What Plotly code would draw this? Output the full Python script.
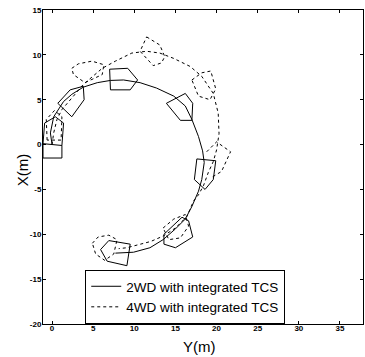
import plotly.graph_objects as go

# ---- 2WD with integrated TCS (solid) : trajectory, Y(m) horizontal, X(m) vertical
path2_y = [0, -0.2, 0.2, 1.4, 2.4, 3.8, 5.5, 7.1, 8.7, 10.7, 12.7, 14.8, 16.2, 17.0, 17.8, 18.3,
           18.5, 18.2, 17.8, 17.0, 16.2, 15.0, 13.5, 11.9, 9.9, 7.7]
path2_x = [0, 1.3, 3.1, 4.8, 5.6, 6.4, 6.9, 7.15, 7.2, 6.9, 6.3, 5.4, 4.3, 2.8, 0.9, -0.7,
           -2.0, -3.9, -5.2, -6.9, -8.3, -9.4, -10.6, -11.5, -12.0, -12.1]

# vehicle outlines (solid)
car2_y = [
    [-1.1, 1.2, 1.2, -1.1, -1.1, -0.9, 0.4, 1.4, 1.2],
    [0.7, 2.2, 3.8, 3.9, 2.4, 0.7],
    [7.0, 9.2, 10.4, 9.5, 7.1, 7.0],
    [13.9, 16.2, 17.1, 17.0, 15.6, 13.9],
    [17.6, 19.9, 19.6, 18.6, 17.3, 17.6],
    [13.6, 15.8, 16.6, 17.1, 15.0, 13.6, 13.6],
    [5.9, 6.9, 9.5, 9.1, 6.7, 5.9],
]
car2_x = [
    [0.1, -0.1, -1.5, -1.5, 0.1, 2.4, 3.1, 2.4, -0.1],
    [4.6, 6.1, 6.5, 5.0, 3.1, 4.6],
    [8.4, 8.5, 7.2, 6.1, 6.1, 8.4],
    [4.6, 5.7, 4.6, 2.7, 2.7, 4.6],
    [-1.6, -1.8, -3.9, -5.0, -3.9, -1.6],
    [-10.0, -8.1, -8.5, -10.3, -11.5, -11.1, -10.0],
    [-11.7, -10.7, -11.1, -13.5, -13.0, -11.7],
]

# ---- 4WD with integrated TCS (dashed)
path4_y = [0, 0.2, 0.6, 1.2, 2.6, 3.8, 6.1, 7.7, 9.7, 11.5, 13.1, 14.8, 16.8, 18.2, 19.6, 20.2,
           20.3, 20.0, 19.6, 19.0, 18.4, 17.8, 17.2, 16.4, 15.0, 13.5, 12.0, 10.7, 9.1, 8.1]
path4_x = [0, 1.3, 2.8, 3.9, 5.4, 6.7, 8.5, 9.3, 10.2, 10.4, 10.2, 9.6, 8.7, 7.6, 5.7, 3.5,
           1.2, -0.6, -1.9, -3.1, -4.6, -5.6, -6.3, -8.0, -9.3, -10.2, -10.8, -11.1, -11.5, -11.6]

car4_y = [
    [-0.6, -0.7, 0.3, 1.2, 1.1, -0.6],
    [2.4, 3.2, 4.85, 6.3, 6.1, 4.0, 2.6, 2.4],
    [11.5, 13.1, 13.7, 13.3, 12.3, 10.7, 11.5],
    [17.0, 18.2, 19.3, 19.9, 19.2, 17.8, 17.0],
    [18.8, 20.0, 21.7, 21.2, 20.6, 19.5],
    [13.5, 14.8, 16.2, 16.6, 15.6, 14.2, 13.5],
    [4.9, 5.6, 6.9, 7.9, 7.5, 6.4, 5.3, 4.9],
]
car4_x = [
    [0.5, 2.8, 3.8, 3.1, 0.5, 0.5],
    [8.5, 9.0, 9.3, 8.9, 7.8, 6.9, 7.8, 8.5],
    [12.0, 11.1, 9.8, 9.1, 8.8, 10.4, 12.0],
    [7.2, 8.0, 8.2, 6.2, 5.0, 5.4, 7.2],
    [-0.8, 0.3, -0.8, -1.8, -3.0, -3.6],
    [-9.3, -8.3, -7.8, -9.1, -10.4, -10.6, -9.3],
    [-11.0, -10.3, -10.1, -10.6, -12.2, -12.9, -12.2, -11.0],
]

x_ticks = [0, 5, 10, 15, 20, 25, 30, 35]
y_ticks = [15, 10, 5, 0, -5, -10, -15, -20]
names = ["2WD with integrated TCS", "4WD with integrated TCS"]


def join(path, cars):
    out = list(path)
    for c in cars:
        out += [None] + list(c)
    return out


fig = go.Figure()
fig.add_trace(go.Scatter(x=join(path2_y, car2_y), y=join(path2_x, car2_x), mode="lines",
                         name=names[0], line=dict(color="black", width=1), connectgaps=False))
fig.add_trace(go.Scatter(x=join(path4_y, car4_y), y=join(path4_x, car4_x), mode="lines",
                         name=names[1], line=dict(color="black", width=1, dash="3px,3px"),
                         connectgaps=False))

axis_common = dict(showline=True, linecolor="black", linewidth=1, mirror="ticks",
                   ticks="inside", ticklen=3, tickcolor="black", showgrid=False, zeroline=False,
                   automargin=False,
                   tickfont=dict(family="Arial", size=8, color="black", weight="bold"))

fig.update_layout(
    template="none",
    width=365, height=357,
    margin=dict(l=43, r=2, t=10, b=33, autoexpand=False),
    paper_bgcolor="white", plot_bgcolor="white",
    xaxis=dict(range=[-1.1, 37.8], tickvals=x_ticks, ticktext=[str(v) for v in x_ticks],
               ticklabelstandoff=-4, **axis_common),
    yaxis=dict(range=[-20, 15], tickvals=y_ticks, ticktext=[str(v) for v in y_ticks],
               ticklabelstandoff=-1, **axis_common),
    legend=dict(x=0.132, y=0.172, xanchor="left", yanchor="top", bgcolor="white",
                bordercolor="black", borderwidth=1, itemwidth=30,
                font=dict(family="Arial", size=13.5, color="black"), tracegroupgap=0),
    annotations=[
        dict(text="X(m)", xref="paper", yref="paper", x=-0.0656, y=0.49, textangle=-90,
             xanchor="center", yanchor="middle",
             showarrow=False, font=dict(family="Arial", size=15, color="black")),
        dict(text="Y(m)", xref="paper", yref="paper", x=0.49, y=-0.0732,
             xanchor="center", yanchor="middle", showarrow=False,
             font=dict(family="Arial", size=15, color="black")),
    ],
)

fig.write_html("out.html", config={"displayModeBar": False},
               post_script="document.body.style.margin='0';")
